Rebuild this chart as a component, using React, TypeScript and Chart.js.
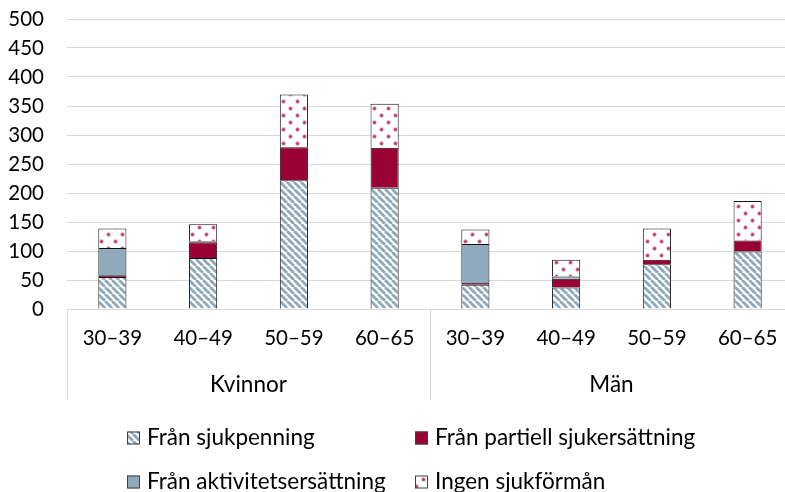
import React, { useEffect, useRef } from 'react';
import { Chart, registerables } from 'chart.js';
Chart.register(...registerables);

const ageGroups = ['30–39', '40–49', '50–59', '60–65', '30–39', '40–49', '50–59', '60–65'];
const genderGroups = ['Kvinnor', 'Män'];
const seriesNames = ['Från sjukpenning', 'Från partiell sjukersättning', 'Från aktivitetsersättning', 'Ingen sjukförmån'];
const fromSjukpenning = [55, 88, 222, 209, 42, 37, 77, 99];
const fromPartiell = [3, 27, 57, 69, 3, 15, 8, 19];
const fromAktivitet = [47, 2, 0, 0, 67, 4, 0, 0];
const ingenSjukforman = [34, 29, 91, 76, 25, 29, 54, 68];
const yMin = 0;
const yMax = 500;
const yStep = 50;

const FONT = 'Lato, "Open Sans", sans-serif';

function makeHatch(): CanvasPattern | string {
  const s = 7;
  const c = document.createElement('canvas');
  c.width = s; c.height = s;
  const g = c.getContext('2d');
  if (!g) return '#9fb6c6';
  g.fillStyle = '#ffffff';
  g.fillRect(0, 0, s, s);
  g.strokeStyle = '#8fa9bc';
  g.lineWidth = 2.8;
  for (const k of [-s, 0, s]) {
    g.beginPath();
    g.moveTo(k, 0);
    g.lineTo(k + s, s);
    g.stroke();
  }
  return g.createPattern(c, 'repeat') || '#9fb6c6';
}

function makeDots(): CanvasPattern | string {
  const s = 14;
  const c = document.createElement('canvas');
  c.width = s; c.height = s;
  const g = c.getContext('2d');
  if (!g) return '#ffffff';
  g.fillStyle = '#ffffff';
  g.fillRect(0, 0, s, s);
  for (const [x, y] of [[3.5, 3.5], [10.5, 10.5]]) {
    g.fillStyle = '#e2a3bb';
    g.beginPath();
    g.arc(x, y, 2.2, 0, Math.PI * 2);
    g.fill();
    g.fillStyle = '#c03c6c';
    g.beginPath();
    g.arc(x, y, 1.5, 0, Math.PI * 2);
    g.fill();
  }
  return g.createPattern(c, 'repeat') || '#ffffff';
}

export default function App() {
  const ref = useRef<HTMLCanvasElement | null>(null);
  useEffect(() => {
    if (!ref.current) return;
    const hatch = makeHatch();
    const dots = makeDots();
    const fills: (CanvasPattern | string)[] = [hatch, '#990033', '#8faabc', dots];
    const values = [fromSjukpenning, fromPartiell, fromAktivitet, ingenSjukforman];

    const extras = {
      id: 'extras',
      afterDraw(chart: any) {
        const ctx = chart.ctx as CanvasRenderingContext2D;
        const x = chart.scales.x;
        const area = chart.chartArea;
        ctx.save();
        ctx.strokeStyle = '#d9d9d9';
        ctx.lineWidth = 1;
        const mid = (x.getPixelForTick(3) + x.getPixelForTick(4)) / 2;
        for (const px of [area.left, mid, area.right]) {
          const xx = Math.round(px) + 0.5;
          ctx.beginPath();
          ctx.moveTo(xx, area.bottom);
          ctx.lineTo(xx, area.bottom + 91);
          ctx.stroke();
        }
        ctx.fillStyle = '#000';
        ctx.font = `22.5px ${FONT}`;
        ctx.textAlign = 'center';
        ctx.textBaseline = 'middle';
        const centers = [(area.left + mid) / 2, (mid + area.right) / 2];
        genderGroups.forEach((g, i) => ctx.fillText(g, centers[i], area.bottom + 76));
        const cols = [127, 415];
        const rows = [438, 482];
        ctx.textAlign = 'left';
        seriesNames.forEach((name, i) => {
          const cx = cols[i % 2];
          const cy = rows[Math.floor(i / 2)];
          ctx.fillStyle = fills[i] as any;
          ctx.fillRect(cx, cy - 6.5, 13, 13);
          ctx.strokeStyle = '#404040';
          ctx.lineWidth = 1;
          ctx.strokeRect(cx + 0.5, cy - 6, 12, 12);
          ctx.fillStyle = '#000';
          ctx.fillText(name, cx + 20, cy);
        });
        ctx.restore();
      },
    };

    const chart = new Chart(ref.current, {
      type: 'bar',
      data: {
        labels: ageGroups,
        datasets: seriesNames.map((name, i) => ({
          label: name,
          data: values[i],
          backgroundColor: fills[i] as any,
          borderColor: '#111111',
          borderWidth: 1,
          inflateAmount: 0,
          categoryPercentage: 1,
          barPercentage: 0.31,
        })),
      },
      options: {
        animation: false,
        responsive: false,
        devicePixelRatio: 1,
        layout: { padding: { top: 19, right: 7, left: 0, bottom: 0 } },
        plugins: { legend: { display: false }, tooltip: { enabled: false } },
        scales: {
          x: {
            stacked: true,
            grid: { display: false },
            border: { display: false },
            ticks: { font: { family: FONT, size: 20.5 }, color: '#000', padding: 9, maxRotation: 0, autoSkip: false },
            afterFit: (s: any) => { s.height = 183; },
          },
          y: {
            stacked: true,
            min: yMin,
            max: yMax,
            ticks: { stepSize: yStep, font: { family: FONT, size: 20.5 }, color: '#000', padding: 23, autoSkip: false },
            grid: { color: '#d9d9d9', lineWidth: 1, drawTicks: false },
            border: { display: false },
            afterFit: (s: any) => { s.width = 67; s.paddingTop = 0; s.paddingBottom = 0; },
          },
        },
      },
      plugins: [extras],
    });
    return () => chart.destroy();
  }, []);
  return (
    <div style={{ position: 'fixed', left: 0, top: 0, width: 785, height: 492, overflow: 'hidden', background: '#fff' }}>
      <canvas ref={ref} width={800} height={492} style={{ display: 'block' }} />
    </div>
  );
}
